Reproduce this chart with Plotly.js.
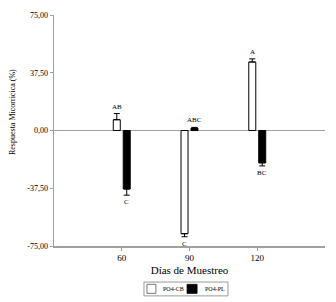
<!DOCTYPE html>
<html>
<head>
<meta charset="utf-8">
<script src="https://cdn.plot.ly/plotly-3.0.1.min.js"></script>
<style>html,body{margin:0;padding:0;background:#fff;}#chart{width:336px;height:302px;}</style>
</head>
<body>
<div id="chart"></div>
<script>
var days = [60, 90, 120];
var seriesNames = ["PO4-CB", "PO4-PL"];
var valuesCB = [7, -67, 44.5];
var errorsCB = [4, 2, 2];
var lettersCB = ["AB", "C", "A"];
var valuesPL = [-38, 1.5, -21];
var errorsPL = [4, 0.5, 2];
var lettersPL = ["C", "ABC", "BC"];
var yTickVals = [-75, -37.5, 0, 37.5, 75];
var yTickText = ["-75,00", "-37,50", "0,00", "37,50", "75,00"];

var barW = 3.1;
var offCB = -3.75, offPL = 0.65;
var serif = "Liberation Serif, Times New Roman, serif";

function upErr(v, e) { return v.map(function (x, i) { return x >= 0 ? e[i] : 0; }); }
function dnErr(v, e) { return v.map(function (x, i) { return x < 0 ? e[i] : 0; }); }

var traces = [
  {
    type: "bar", name: seriesNames[0], x: days, y: valuesCB,
    width: barW, offset: offCB,
    marker: {color: "#ffffff", line: {color: "#000", width: 1}},
    error_y: {type: "data", symmetric: false, array: upErr(valuesCB, errorsCB), arrayminus: dnErr(valuesCB, errorsCB), color: "#000", thickness: 1, width: 3},
    showlegend: false, hoverinfo: "skip"
  },
  {
    type: "bar", name: seriesNames[1], x: days, y: valuesPL,
    width: barW, offset: offPL,
    marker: {color: "#000000", line: {color: "#000", width: 1}},
    error_y: {type: "data", symmetric: false, array: upErr(valuesPL, errorsPL), arrayminus: dnErr(valuesPL, errorsPL), color: "#000", thickness: 1, width: 3},
    showlegend: false, hoverinfo: "skip"
  }
];

var annotations = [];
function addLetters(vals, errs, letters, off) {
  vals.forEach(function (v, i) {
    var pos = v >= 0;
    annotations.push({
      x: days[i] + off + barW / 2, y: pos ? v + errs[i] : v - errs[i],
      xref: "x", yref: "y", text: letters[i], showarrow: false,
      yanchor: pos ? "bottom" : "top", yshift: pos ? 1 : -1,
      font: {family: serif, size: 7, color: "#000"}
    });
  });
}
addLetters(valuesCB, errorsCB, lettersCB, offCB);
addLetters(valuesPL, errorsPL, lettersPL, offPL);

// y title
annotations.push({
  xref: "paper", yref: "paper", x: -0.155, y: 0.58, text: "Respuesta Micorricica (%)",
  textangle: -90, showarrow: false, xanchor: "center", yanchor: "middle",
  font: {family: serif, size: 8, color: "#000"}
});
// legend texts
annotations.push({xref: "paper", yref: "paper", x: 0.395, y: -0.185, text: seriesNames[0], showarrow: false, xanchor: "left", yanchor: "middle", font: {family: serif, size: 6, color: "#000"}});
annotations.push({xref: "paper", yref: "paper", x: 0.548, y: -0.185, text: seriesNames[1], showarrow: false, xanchor: "left", yanchor: "middle", font: {family: serif, size: 6, color: "#000"}});

var shapes = [
  {type: "rect", xref: "paper", yref: "paper", x0: 0.332, x1: 0.642, y0: -0.216, y1: -0.156, line: {color: "#999", width: 1}, fillcolor: "rgba(0,0,0,0)"},
  {type: "rect", xref: "paper", yref: "paper", x0: 0.343, x1: 0.376, y0: -0.205, y1: -0.166, line: {color: "#555", width: 0.8}, fillcolor: "#fff"},
  {type: "rect", xref: "paper", yref: "paper", x0: 0.491, x1: 0.528, y0: -0.205, y1: -0.166, line: {color: "#000", width: 0.8}, fillcolor: "#000"}
];

var layout = {
  width: 336, height: 302,
  margin: {l: 54, r: 11, t: 15, b: 56},
  paper_bgcolor: "#fff", plot_bgcolor: "#fff",
  barmode: "overlay",
  showlegend: false,
  xaxis: {
    range: [30, 150], tickvals: days, ticktext: days.map(String),
    showgrid: false, zeroline: false, showline: true, linecolor: "#a0a0a0", linewidth: 1.5,
    ticks: "outside", ticklen: 3, tickcolor: "#a0a0a0", tickwidth: 1,
    tickfont: {family: serif, size: 9, color: "#000"},
    title: {text: "Días de Muestreo", font: {family: serif, size: 11, color: "#000"}, standoff: 4}
  },
  yaxis: {
    range: [-75, 75], tickvals: yTickVals, ticktext: yTickText,
    showgrid: false, zeroline: true, zerolinecolor: "#a0a0a0", zerolinewidth: 1.5,
    showline: true, linecolor: "#a0a0a0", linewidth: 1.5,
    ticks: "outside", ticklen: 3, tickcolor: "#a0a0a0", tickwidth: 1,
    tickfont: {family: serif, size: 8, color: "#000"}
  },
  annotations: annotations,
  shapes: shapes
};

Plotly.newPlot("chart", traces, layout, {staticPlot: true, displayModeBar: false});
</script>
</body>
</html>
